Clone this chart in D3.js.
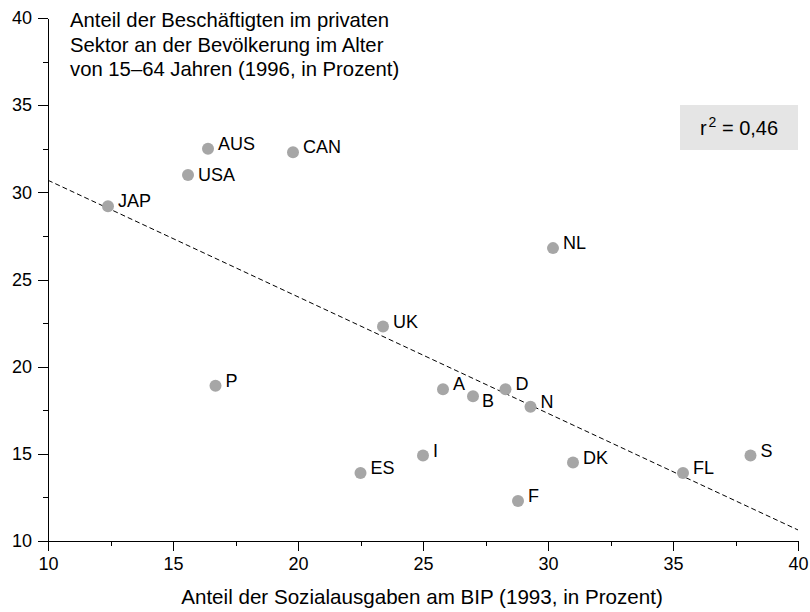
<!DOCTYPE html>
<html>
<head>
<meta charset="utf-8">
<script src="https://cdn.jsdelivr.net/npm/d3@7"></script>
<style>
    html, body { margin: 0; padding: 0; background: #fff; }
    svg text { font-family: "Liberation Sans", Arial, Helvetica, sans-serif; fill: #000; }
    .axis path, .axis line { stroke: #000; stroke-width: 1px; shape-rendering: crispEdges; }
</style>
</head>
<body>
<svg id="chart" width="810" height="612"></svg>
<script>
(function () {
    'use strict';

    var countries = ['AUS', 'CAN', 'USA', 'JAP', 'P', 'NL', 'UK', 'A', 'B', 'D', 'N', 'I', 'ES', 'F', 'DK', 'FL', 'S'];
    // Sozialausgaben in % des BIP (1993)
    var socialSpending = [16.4, 19.8, 15.6, 12.4, 16.7, 30.2, 23.4, 25.8, 27.0, 28.3, 29.3, 25.0, 22.5, 28.8, 31.0, 35.4, 38.1];
    // Beschaeftigte im privaten Sektor in % der 15-64-Jaehrigen (1996)
    var privateEmployment = [32.5, 32.3, 31.0, 29.2, 18.9, 26.8, 22.3, 18.7, 18.3, 18.7, 17.7, 14.9, 13.9, 12.3, 14.5, 13.9, 14.9];
    var xTicks = [10, 15, 20, 25, 30, 35, 40];
    var yTicks = [10, 15, 20, 25, 30, 35, 40];
    var xMinorTicks = [12.5, 17.5, 22.5, 27.5, 32.5, 37.5];
    var yMinorTicks = [12.5, 17.5, 22.5, 27.5, 32.5, 37.5];
    var titleLines = ['Anteil der Beschäftigten im privaten', 'Sektor an der Bevölkerung im Alter', 'von 15–64 Jahren (1996, in Prozent)'];
    var xTitle = 'Anteil der Sozialausgaben am BIP (1993, in Prozent)';
    var rSquaredLabel = '0,46';

    // label offsets that differ from the default (right of the dot)
    var labelShift = { B: [9, 11], USA: [10, 6] };

    var margin = { top: 18, right: 12, bottom: 71, left: 48 };
    var svg = d3.select('#chart');
    var width = +svg.attr('width') - margin.left - margin.right;
    var height = +svg.attr('height') - margin.top - margin.bottom;

    var x = d3.scaleLinear().domain([10, 40]).range([0, width]);
    var y = d3.scaleLinear().domain([10, 40]).range([height, 0]);

    var g = svg.append('g')
        .attr('transform', 'translate(' + margin.left + ',' + margin.top + ')');

    var points = countries.map(function (name, i) {
        return { name: name, x: socialSpending[i], y: privateEmployment[i] };
    });

    // least squares line
    var mx = d3.mean(points, function (d) { return d.x; });
    var my = d3.mean(points, function (d) { return d.y; });
    var sxy = d3.sum(points, function (d) { return (d.x - mx) * (d.y - my); });
    var sxx = d3.sum(points, function (d) { return (d.x - mx) * (d.x - mx); });
    var slope = sxy / sxx;
    var intercept = my - slope * mx;
    var fit = function (v) { return intercept + slope * v; };

    // axes
    var xAxis = g.append('g')
        .attr('class', 'axis')
        .attr('transform', 'translate(0,' + height + ')')
        .call(d3.axisBottom(x).tickValues(xTicks).tickSize(10).tickSizeOuter(0).tickPadding(6));
    g.append('g')
        .attr('class', 'axis')
        .attr('transform', 'translate(0,' + height + ')')
        .call(d3.axisBottom(x).tickValues(xMinorTicks).tickSize(5).tickSizeOuter(0).tickFormat(''))
        .select('.domain').remove();

    var yAxis = g.append('g')
        .attr('class', 'axis')
        .call(d3.axisLeft(y).tickValues(yTicks).tickSize(10).tickSizeOuter(0).tickPadding(6));
    g.append('g')
        .attr('class', 'axis')
        .call(d3.axisLeft(y).tickValues(yMinorTicks).tickSize(5).tickSizeOuter(0).tickFormat(''))
        .select('.domain').remove();

    svg.selectAll('.axis').attr('font-family', null).attr('font-size', 18);

    // regression line
    g.append('line')
        .attr('x1', x(10))
        .attr('y1', y(fit(10)))
        .attr('x2', x(40))
        .attr('y2', y(fit(40)))
        .style('stroke', '#000')
        .style('stroke-width', '1px')
        .style('stroke-dasharray', '5,3');

    // dots
    g.selectAll('.dot')
        .data(points)
        .enter()
        .append('circle')
        .attr('class', 'dot')
        .attr('cx', function (d) { return x(d.x); })
        .attr('cy', function (d) { return y(d.y); })
        .attr('r', 6)
        .attr('fill', '#a6a6a6');

    g.selectAll('.label')
        .data(points)
        .enter()
        .append('text')
        .attr('class', 'label')
        .attr('x', function (d) { return x(d.x) + (labelShift[d.name] ? labelShift[d.name][0] : 10); })
        .attr('y', function (d) { return y(d.y) + (labelShift[d.name] ? labelShift[d.name][1] : 1); })
        .attr('font-size', 18)
        .text(function (d) { return d.name; });

    // title in the top-left corner
    var title = svg.append('text')
        .attr('x', 70)
        .attr('y', 27)
        .attr('font-size', 20.3);
    title.selectAll('tspan')
        .data(titleLines)
        .enter()
        .append('tspan')
        .attr('x', 70)
        .attr('dy', function (d, i) { return i === 0 ? 0 : 24.5; })
        .text(function (d) { return d; });

    svg.append('text')
        .attr('x', margin.left + width / 2 - 1)
        .attr('y', 604)
        .attr('text-anchor', 'middle')
        .attr('font-size', 20.6)
        .text(xTitle);

    // r^2 box
    svg.append('rect')
        .attr('x', 680)
        .attr('y', 105)
        .attr('width', 118)
        .attr('height', 45)
        .attr('fill', '#e5e5e5');
    var r2 = svg.append('text')
        .attr('x', 739)
        .attr('y', 135)
        .attr('text-anchor', 'middle')
        .attr('font-size', 20);
    r2.append('tspan').text('r');
    r2.append('tspan').attr('font-size', 14).attr('dx', 2).attr('dy', -8).text('2');
    r2.append('tspan').attr('dy', 8).text(' = ' + rSquaredLabel);
}());
</script>
</body>
</html>
